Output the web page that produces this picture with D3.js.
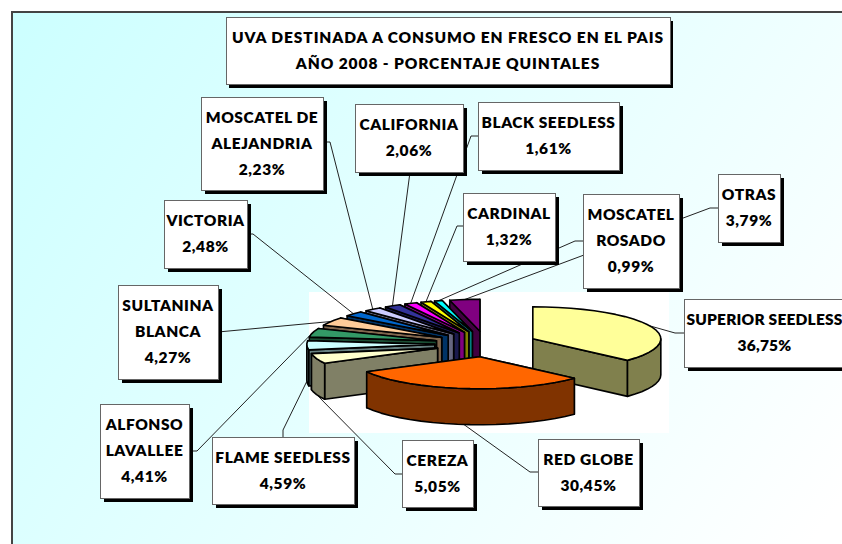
<!DOCTYPE html>
<html>
<head>
<meta charset="utf-8">
<script src="https://cdn.jsdelivr.net/npm/d3@7"></script>
<style>
  html, body { margin: 0; padding: 0; background: #fff; overflow: hidden; }
  text { font-family: Lato, sans-serif; font-weight: 800; fill: #000; text-anchor: middle; }
</style>
</head>
<body>
<div id="chart"></div>
<script>
var titleLines = ["UVA DESTINADA A CONSUMO EN FRESCO EN EL PAIS", "AÑO 2008 - PORCENTAJE QUINTALES"];

var categories = [
  ["SUPERIOR SEEDLESS"], ["RED GLOBE"], ["CEREZA"], ["FLAME SEEDLESS"],
  ["ALFONSO", "LAVALLEE"], ["SULTANINA", "BLANCA"], ["VICTORIA"],
  ["MOSCATEL DE", "ALEJANDRIA"], ["CALIFORNIA"], ["BLACK SEEDLESS"],
  ["CARDINAL"], ["MOSCATEL", "ROSADO"], ["OTRAS"]
];
var values = [36.75, 30.45, 5.05, 4.59, 4.41, 4.27, 2.48, 2.23, 2.06, 1.61, 1.32, 0.99, 3.79];
var colors = ["#FFFF99", "#FF6600", "#FFFFCC", "#CCFFFF", "#339966", "#FFCC99", "#0066CC",
              "#CCCCFF", "#333399", "#FF00FF", "#FFFF00", "#00FFFF", "#800080"];

// label boxes [x0, y0, x1, y1], same order as categories
var boxes = [
  [684, 299, 850, 367], [538, 439, 639, 506], [402, 440, 473, 507], [212, 437, 354, 504],
  [100, 404, 189, 498], [118, 285, 218, 379], [164, 200, 247, 268], [201, 97, 323, 190],
  [355, 104, 463, 172], [478, 102, 619, 170], [463, 193, 555, 261], [583, 194, 679, 288],
  [718, 174, 780, 242]
];
// leader line points on the box side, the slice end is added from the pie
var leaders = [
  [[684, 333], [675, 333]], [[538, 472], [530, 472]], [[402, 474], [395, 474]], [[283, 437], [283, 430]],
  [[189, 451], [197, 451]], [[218, 332]], [[247, 234], [253, 234]], [[323, 142], [330, 142]],
  [[410, 172]], [[478, 136], [471, 136]], [[463, 226], [457, 226]], [[583, 241], [575, 241]],
  [[718, 208], [710, 208]]
];
var leaderOnBase = [false, true, true, true, false, false, false, false, false, false, false, false, false];

var svgWidth = 842;
var svgHeight = 544;

// pie geometry
var centerX = 486, centerY = 344;
var radiusX = 128, radiusY = 32;
var depth = 36;
var explode = 0.4;

var svg = d3.select("#chart")
  .append("svg")
  .attr("width", svgWidth)
  .attr("height", svgHeight)
  .style("display", "block");

var grad = svg.append("defs").append("linearGradient")
  .attr("id", "panelFill")
  .attr("gradientUnits", "userSpaceOnUse")
  .attr("x1", 12).attr("y1", 12)
  .attr("x2", 800).attr("y2", 560);
grad.append("stop").attr("offset", "0").attr("stop-color", "#CCFFFF");
grad.append("stop").attr("offset", "1").attr("stop-color", "#FFFFFF");

svg.append("rect")
  .attr("x", 12).attr("y", 12)
  .attr("width", svgWidth).attr("height", svgHeight)
  .attr("fill", "url(#panelFill)")
  .attr("stroke", "#444")
  .attr("stroke-width", 2);

// white patch around the pie
svg.append("rect")
  .attr("x", 309).attr("y", 292)
  .attr("width", 360).attr("height", 141)
  .attr("fill", "#fff");

var xScale = d3.scaleLinear().domain([-1, 1]).range([centerX - radiusX, centerX + radiusX]);
var yScale = d3.scaleLinear().domain([-1, 1]).range([centerY + radiusY, centerY - radiusY]);

var pie = d3.pie().sort(null).value(d => d);
var slices = pie(values).map(function(s, i) {
  var mid = (s.startAngle + s.endAngle) / 2;
  return {
    index: i,
    start: s.startAngle,
    end: s.endAngle,
    mid: mid,
    ox: explode * Math.sin(mid),
    oy: explode * Math.cos(mid),
    color: d3.color(colors[i]),
  };
});

function point(s, angle, r, down) {
  return [
    xScale(s.ox + r * Math.sin(angle)),
    yScale(s.oy + r * Math.cos(angle)) + (down ? depth : 0)
  ];
}

function arcAngles(a0, a1) {
  var n = Math.max(1, Math.ceil((a1 - a0) / (Math.PI / 30)));
  return d3.range(n + 1).map(i => a0 + (a1 - a0) * i / n);
}

var line = d3.line().curve(d3.curveLinearClosed);

function wallColor(s) {
  return d3.rgb(s.color.r / 2, s.color.g / 2, s.color.b / 2);
}

// leader lines go under the boxes and the pie
var leaderLine = d3.line();
slices.forEach(function(s) {
  var pts = leaders[s.index].concat([point(s, s.mid, 1, leaderOnBase[s.index])]);
  svg.append("path")
    .attr("d", leaderLine(pts))
    .attr("fill", "none")
    .attr("stroke", "#222")
    .attr("stroke-width", 1);
});

// label boxes
boxes.forEach(function(b, i) {
  svg.append("rect")
    .attr("x", b[0] + 4).attr("y", b[1] + 4)
    .attr("width", b[2] - b[0]).attr("height", b[3] - b[1])
    .attr("fill", "#000");
  svg.append("rect")
    .attr("x", b[0] + 0.5).attr("y", b[1] + 0.5)
    .attr("width", b[2] - b[0]).attr("height", b[3] - b[1])
    .attr("fill", "#fff")
    .attr("stroke", "#666")
    .attr("stroke-width", 1);
});

// back to front by the y of the slice corner
var pieGroup = svg.append("g")
  .attr("stroke", "#000")
  .attr("stroke-width", 1.6)
  .attr("stroke-linejoin", "round");

slices.slice().sort((a, b) => a.oy > b.oy ? -1 : 1).forEach(function(s) {
  var c = wallColor(s);
  var apexTop = point(s, 0, 0, false);
  var apexBase = point(s, 0, 0, true);

  // radial walls, the one further back first
  [s.start, s.end]
    .sort((a, b) => Math.cos(b) - Math.cos(a))
    .forEach(function(a) {
      pieGroup.append("path")
        .attr("d", line([apexTop, point(s, a, 1, false), point(s, a, 1, true), apexBase]))
        .attr("fill", c);
    });

  // outer wall, only the part facing the viewer
  var a0 = Math.max(s.start, Math.PI / 2);
  var a1 = Math.min(s.end, Math.PI * 1.5);
  if (a1 > a0) {
    var angles = arcAngles(a0, a1);
    var wall = angles.map(a => point(s, a, 1, false))
      .concat(angles.slice().reverse().map(a => point(s, a, 1, true)));
    pieGroup.append("path").attr("d", line(wall)).attr("fill", c);
  }

  // top face
  var top = [apexTop].concat(arcAngles(s.start, s.end).map(a => point(s, a, 1, false)));
  pieGroup.append("path").attr("d", line(top)).attr("fill", s.color);
});

function boxText(b, lines, size, spacing) {
  var mx = (b[0] + b[2]) / 2;
  var my = (b[1] + b[3]) / 2;
  lines.forEach(function(t, i) {
    svg.append("text")
      .attr("x", mx)
      .attr("y", my + 5 + (i - (lines.length - 1) / 2) * 26)
      .attr("font-size", size)
      .attr("letter-spacing", spacing)
      .text(t);
  });
}

// title
var titleBox = [226, 17, 670, 84];
svg.append("rect")
  .attr("x", titleBox[0] + 3).attr("y", titleBox[1] + 4)
  .attr("width", titleBox[2] - titleBox[0]).attr("height", titleBox[3] - titleBox[1])
  .attr("fill", "#000");
svg.append("rect")
  .attr("x", titleBox[0] + 0.5).attr("y", titleBox[1] + 0.5)
  .attr("width", titleBox[2] - titleBox[0]).attr("height", titleBox[3] - titleBox[1])
  .attr("fill", "#fff")
  .attr("stroke", "#666");
boxText(titleBox, titleLines, 15.5, 0.9);

boxes.forEach(function(b, i) {
  var pct = values[i].toFixed(2).replace(".", ",") + "%";
  // the first box runs off the page, keep its text inside
  var box = i === 0 ? [684, 299, 845, 367] : b;
  boxText(box, categories[i].concat([pct]), 15.5, i === 0 ? 0.2 : 0.55);
});
</script>
</body>
</html>
